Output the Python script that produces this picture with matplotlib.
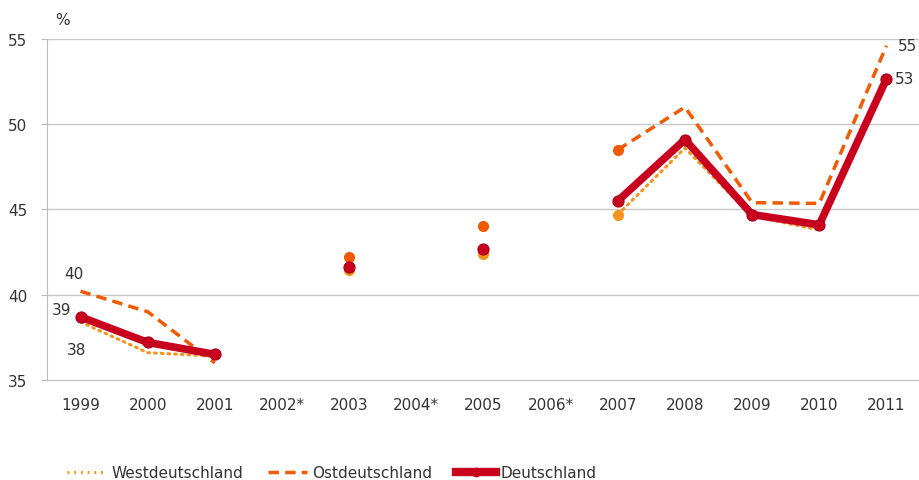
import numpy as np
import matplotlib
matplotlib.use("Agg")
import matplotlib.pyplot as plt

years = ["1999", "2000", "2001", "2002*", "2003", "2004*", "2005", "2006*", "2007", "2008", "2009", "2010", "2011"]
west = [38.4, 36.6, 36.4, np.nan, 41.45, np.nan, 42.4, np.nan, 44.7, 48.6, 44.6, 43.8, 52.4]
ost = [40.2, 39.0, 36.0, np.nan, 42.2, np.nan, 44.0, np.nan, 48.5, 51.0, 45.4, 45.35, 54.6]
deutschland = [38.7, 37.2, 36.5, np.nan, 41.6, np.nan, 42.7, np.nan, 45.5, 49.1, 44.7, 44.1, 52.65]
yticks = [35, 40, 45, 50, 55]

c_west = "#F7941D"
c_ost = "#F05A00"
c_de = "#C8001E"
txt = "#333333"

plt.rcParams['font.family'] = ['DejaVu Sans']

fig = plt.figure(figsize=(9.2, 4.81), dpi=100)
ax = fig.add_axes([0.051, 0.208, 0.949, 0.709])
x = np.arange(len(years))

ax.plot(x, west, color=c_west, lw=2.2, ls=(0, (0.6, 1.6)), dash_capstyle='round', zorder=3)
ax.plot(x, ost, color=c_ost, lw=2.5, ls=(0, (3, 1.8)), zorder=3)
ax.plot(x, deutschland, color=c_de, lw=5.5, marker='o', ms=8, mfc=c_de, mec="#A8001A", mew=0.8,
        solid_capstyle='round', zorder=4)
iso = [4, 6, 8]
ax.plot(x[iso], np.array(west)[iso], ls='none', marker='o', ms=7, color=c_west, zorder=3)
ax.plot(x[iso], np.array(ost)[iso], ls='none', marker='o', ms=7, color=c_ost, zorder=3)

# legend proxies
ax.plot([], [], color=c_west, lw=2.2, ls=(0, (0.6, 1.6)), label="Westdeutschland")
ax.plot([], [], color=c_ost, lw=2.5, ls=(0, (3, 1.8)), label="Ostdeutschland")
ax.plot([], [], color=c_de, lw=6, marker='o', ms=6, label="Deutschland")
h, l = ax.get_legend_handles_labels()
fig.legend(h[-3:], l[-3:], loc='center left', bbox_to_anchor=(0.058, 0.015), ncol=3, frameon=False,
           fontsize=11, handlelength=2.6, handletextpad=0.3, columnspacing=1.6, labelcolor=txt)

ax.set_xlim(-0.5, len(years) - 0.5)
ax.set_ylim(35, 55)
ax.set_yticks(yticks)
ax.set_xticks(x)
ax.set_xticklabels(years)
ax.tick_params(axis='both', labelsize=11, labelcolor=txt)
ax.tick_params(axis='x', length=0, pad=12)
ax.tick_params(axis='y', length=4, color="#BBBBBB", pad=10)
for v in yticks[1:]:
    ax.axhline(v, color="#C8C8C8", lw=1, zorder=1)
for s in ['top', 'right']:
    ax.spines[s].set_visible(False)
ax.spines['left'].set_color("#BBBBBB")
ax.spines['bottom'].set_color("#BBBBBB")

ax.text(0.060, 0.957, "%", transform=fig.transFigure, fontsize=11, color=txt, va='center')

ax.annotate("40", (0, ost[0]), xytext=(-5, 13), textcoords='offset points', fontsize=11, color=txt, ha='center', va='center')
ax.annotate("39", (0, deutschland[0]), xytext=(-13.7, 5), textcoords='offset points', fontsize=11, color=txt, ha='center', va='center')
ax.annotate("38", (0, west[0]), xytext=(-3, -20), textcoords='offset points', fontsize=11, color=txt, ha='center', va='center')
ax.annotate("55", (12, ost[12]), xytext=(15, 0.5), textcoords='offset points', fontsize=11, color=txt, ha='center', va='center')
ax.annotate("53", (12, deutschland[12]), xytext=(13, 0.5), textcoords='offset points', fontsize=11, color=txt, ha='center', va='center')

fig.savefig("out.png", dpi=100)
